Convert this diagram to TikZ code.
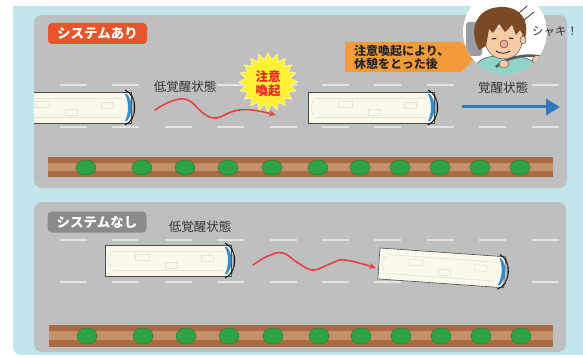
\documentclass[tikz,border=0pt]{standalone}
\usepackage{fontspec}
\newfontfamily\jp{Noto Sans CJK JP}
\usetikzlibrary{arrows.meta,shapes.geometric}
\definecolor{bgblue}{HTML}{C3E5EC}
\definecolor{road}{HTML}{BEBFC1}
\definecolor{lane}{HTML}{E3E4E5}
\definecolor{soil}{HTML}{A86A43}
\definecolor{soillight}{HTML}{C6906A}
\definecolor{bush}{HTML}{2FA348}
\definecolor{bushdark}{HTML}{1E7A32}
\definecolor{tagred}{HTML}{E8552B}
\definecolor{taggray}{HTML}{8A8B8D}
\definecolor{wave}{HTML}{E8423F}
\definecolor{burst}{HTML}{FFF033}
\definecolor{alertred}{HTML}{E8262A}
\definecolor{calloutorange}{HTML}{F39B3B}
\definecolor{awake}{HTML}{2F78C0}
\definecolor{busbody}{HTML}{FCF9EC}
\definecolor{busline}{HTML}{4A4A4A}
\definecolor{busdetail}{HTML}{E8E3D2}
\definecolor{glass}{HTML}{2F8FD0}
\definecolor{textdark}{HTML}{333333}
\definecolor{skin}{HTML}{F7CBA6}
\definecolor{hair}{HTML}{7A4A26}
\definecolor{shirt}{HTML}{8FD3C9}
\definecolor{seat}{HTML}{9A9DA3}
\definecolor{wheel}{HTML}{5A5D63}
\definecolor{nose}{HTML}{F2A496}

\tikzset{
  panel/.style={fill=road, rounded corners=8pt},
  lanedash/.style={draw=lane, line width=2.6pt},
  tag/.style={rounded corners=4pt, text=white, font=\jp\bfseries\fontsize{13.5}{14}\selectfont,
    minimum width=99pt, minimum height=21pt, inner sep=0pt},
  statetext/.style={text=textdark, font=\jp\fontsize{12.5}{13}\selectfont, inner sep=1pt},
  wavearrow/.style={draw=wave, line width=1.6pt, line cap=round,
    -{Stealth[length=7pt,width=6pt]}},
  bushball/.style={fill=bush, draw=bushdark, line width=0.4pt},
  outline/.style={draw=busline, line width=0.45pt},
  bus/.pic={
    % body seen from above
    \fill[busbody] (0,0) rectangle (126,31);
    \draw[busdetail, line width=0.7pt] (8,6) -- (118,6) (8,25) -- (118,25);
    \draw[busdetail, line width=0.7pt] (30,9) rectangle (44,15) (60,17) rectangle (72,23) (96,10) rectangle (108,16);
    \draw[busdetail, line width=0.7pt] (6,8) .. controls (2,14) and (2,18) .. (6,23);
    \draw[busline, line width=0.6pt] (0,0) rectangle (126,31);
    % windscreen
    \fill[glass] (122,2) .. controls (128,9) and (128,22) .. (122,29)
      -- (120,29) .. controls (124,21) and (124,10) .. (120,2) -- cycle;
    % front bumper and mirrors
    \draw[black, line width=0.9pt] (120,-2) .. controls (133,4) and (133,27) .. (120,33);
    \draw[busline, line width=0.5pt] (126,1) .. controls (130,8) and (130,23) .. (126,30);
  }
}

\begin{document}
\begin{tikzpicture}[x=1pt,y=-1pt]
\useasboundingbox (0,0) rectangle (583,358);

% backdrop
\fill[bgblue] (590,6) -- (13,6) -- (13,347) arc[start angle=180, end angle=90, radius=8] -- (590,355) -- cycle;

% road panels
\path[panel] (34,15) rectangle (567,188);
\path[panel] (34,202) rectangle (566,352);

% lane markings
\foreach \i in {0,...,9}{
  \draw[lanedash] ({60+52.4*\i},85) -- ++(27,0);
  \draw[lanedash] ({60+52.4*\i},127) -- ++(27,0);
  \draw[lanedash] ({60+52.4*\i},240) -- ++(27,0);
  \draw[lanedash] ({60+52.4*\i},282) -- ++(27,0);
}

% roadside hedges
\fill[soil] (48,157) rectangle (553,177);
\fill[soillight] (48,163) rectangle (553,171);
\fill[soil] (49,325) rectangle (553,347);
\fill[soillight] (49,331) rectangle (553,340);
\foreach \x in {86,142,185,228,272,318,360,400,440,480,520}{
  \path[bushball] (\x,167.5) ellipse (10pt and 7.5pt);
  \path[bushball] (\x+1,336) ellipse (10pt and 8pt);
}

% section tags
\node[tag, fill=tagred] (withsys) at (97.5,33.5) {システムあり};
\node[tag, fill=taggray] (nosys) at (97,222) {システムなし};

% ---- with system ----
\begin{scope}
  \clip[rounded corners=8pt] (34,15) rectangle (567,188);
  \pic at (5,92) {bus};
\end{scope}
\pic at (308,92) {bus};

\node[statetext, fill=road] (drowsyA) at (185,87) {低覚醒状態};
\coordinate (waveAstart) at (155,110);
\coordinate (waveAend) at (276,115);
\draw[wavearrow] plot[smooth, tension=0.7] coordinates
  {(waveAstart) (172,101) (188,100) (203,113) (216,118) (234,111) (252,110) (waveAend)};

\node[star, star points=20, star point ratio=1.3, minimum size=58pt, inner sep=0pt,
      fill=burst, draw=burst!60!white, line width=1pt] (alert) at (268,82) {};
\node[text=alertred, font=\jp\bfseries\fontsize{12.5}{14}\selectfont, align=center, inner sep=0pt]
  (alerttext) at (268,84) {注意\\喚起};

\node[statetext, fill=road] (awakeA) at (503,88) {覚醒状態};
\coordinate (blueStart) at (462,107);
\coordinate (blueEnd) at (560,107);
\draw[awake, line width=3pt, -{Triangle[length=14pt,width=16pt]}] (blueStart) -- (blueEnd);

% callout
\fill[calloutorange] (345,42) -- (461,42) -- (477,56) -- (461,72) -- (345,72) -- cycle;
\node[text=black!85, font=\jp\bfseries\fontsize{12}{12.5}\selectfont, align=left, inner sep=0pt, anchor=west]
  (restnote) at (354,57.5) {注意喚起により、\\休憩をとった後};

% refreshed driver
\begin{scope}
  \clip (505,32) circle (42pt);
  \fill[white] (505,32) circle (42pt);
  \fill[seat, rounded corners=3pt] (466,22) rectangle (482,56);
  \fill[shirt, outline] (470,82) .. controls (472,62) and (482,55) .. (503,56)
    .. controls (525,55) and (540,60) .. (550,82) -- cycle;
  \fill[skin, outline] (485,28) .. controls (482,48) and (491,59) .. (504,59)
    .. controls (517,59) and (525,48) .. (522,28) -- cycle;
  \fill[skin, outline] (523,40) ellipse (3pt and 4pt);
  \fill[hair] (479,50) .. controls (468,30) and (476,8) .. (500,7)
    .. controls (520,6) and (530,20) .. (525,38) -- (520,30) -- (516,35) -- (512,25)
    -- (505,32) -- (499,24) -- (493,33) -- (489,29) -- (486,46) -- cycle;
  \draw[black, line width=0.9pt, line cap=round] (492,39) -- (496,38.5) (509,38) -- (513,38.5);
  \fill[nose, outline] (504,44) circle (4pt);
  \draw[black, line width=0.7pt, line cap=round] (496,51) .. controls (500,54) and (506,54) .. (510,51);
  \draw[wheel, line width=2.6pt] (496,67) .. controls (510,54) and (540,52) .. (553,62);
  \fill[skin, outline] (504,64) ellipse (5pt and 4pt);
  \fill[skin, outline] (538,60) ellipse (6pt and 4.5pt);
\end{scope}
\draw[textdark, line width=0.8pt, line cap=round] (519,13) -- (527,6) (524,20) -- (534,12);
\node[text=textdark, font=\jp\fontsize{11.5}{12}\selectfont, inner sep=0pt] (snap) at (555,31) {シャキ！};

% ---- without system ----
\pic at (105,245) {bus};
\pic[rotate=-4] at (380,248) {bus};
\node[statetext] (drowsyB) at (200,227) {低覚醒状態};
\coordinate (waveBstart) at (253,265);
\coordinate (waveBend) at (376,268);
\draw[wavearrow] plot[smooth, tension=0.7] coordinates
  {(waveBstart) (268,256) (283,253) (298,263) (313,270) (330,264) (345,260) (waveBend)};

\end{tikzpicture}
\end{document}
